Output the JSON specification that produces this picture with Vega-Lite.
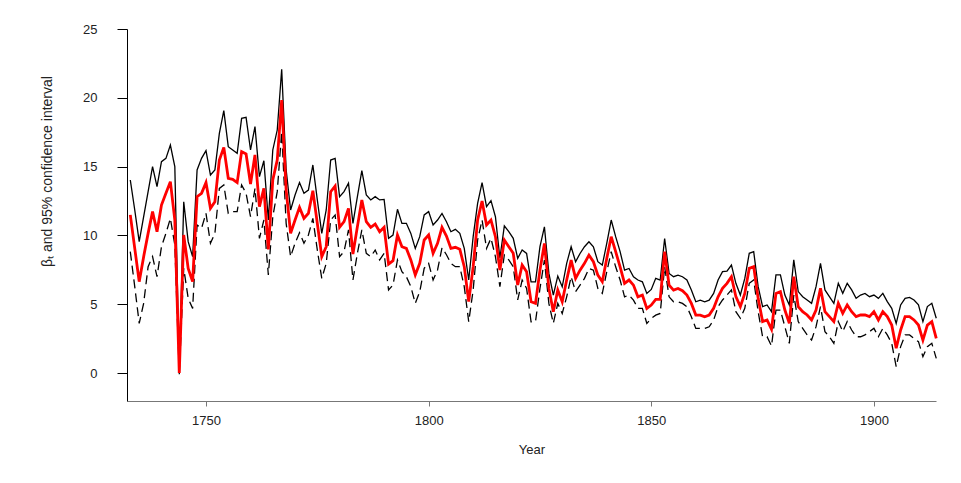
{
  "$schema": "https://vega.github.io/schema/vega-lite/v6.json",
  "width": 809,
  "height": 372,
  "autosize": "none",
  "padding": {"left": 127, "top": 29, "right": 25, "bottom": 82},
  "background": "white",
  "config": {
    "view": {"stroke": null},
    "axis": {"grid": false, "labelFont": "Liberation Sans", "titleFont": "Liberation Sans", "labelFontSize": 13, "titleFontSize": 13, "labelColor": "#222", "titleColor": "#222", "titleFontWeight": "normal"}
  },
  "data": {
    "values": [
      {"year":1733,"est":11.49,"upper":14.03,"lower":8.82},
      {"year":1734,"est":9.06,"upper":11.85,"lower":6.28},
      {"year":1735,"est":6.64,"upper":9.55,"lower":3.61},
      {"year":1736,"est":8.46,"upper":11.36,"lower":5.07},
      {"year":1737,"est":10.15,"upper":13.18,"lower":7.73},
      {"year":1738,"est":11.73,"upper":15.0,"lower":8.46},
      {"year":1739,"est":10.27,"upper":13.54,"lower":7.0},
      {"year":1740,"est":12.21,"upper":15.36,"lower":9.18},
      {"year":1741,"est":13.06,"upper":15.6,"lower":10.15},
      {"year":1742,"est":13.91,"upper":16.57,"lower":11.24},
      {"year":1743,"est":11.12,"upper":15.0,"lower":9.31},
      {"year":1744,"est":0,"upper":0.1,"lower":-0.1},
      {"year":1745,"est":10.03,"upper":12.45,"lower":7.61},
      {"year":1746,"est":7.61,"upper":9.55,"lower":5.43},
      {"year":1747,"est":6.64,"upper":8.46,"lower":4.7},
      {"year":1748,"est":12.82,"upper":14.76,"lower":10.76},
      {"year":1749,"est":13.06,"upper":15.6,"lower":10.52},
      {"year":1750,"est":13.84,"upper":16.16,"lower":11.61},
      {"year":1751,"est":11.97,"upper":14.39,"lower":9.43},
      {"year":1752,"est":12.45,"upper":14.76,"lower":10.15},
      {"year":1753,"est":15.48,"upper":17.42,"lower":13.42},
      {"year":1754,"est":16.4,"upper":19.07,"lower":13.67},
      {"year":1755,"est":14.15,"upper":16.45,"lower":11.61},
      {"year":1756,"est":14.08,"upper":16.21,"lower":11.73},
      {"year":1757,"est":13.84,"upper":15.97,"lower":11.73},
      {"year":1758,"est":16.09,"upper":18.51,"lower":13.67},
      {"year":1759,"est":15.92,"upper":18.58,"lower":13.06},
      {"year":1760,"est":13.74,"upper":16.21,"lower":11.36},
      {"year":1761,"est":15.85,"upper":17.91,"lower":13.42},
      {"year":1762,"est":12.09,"upper":14.27,"lower":9.79},
      {"year":1763,"est":13.42,"upper":15.43,"lower":11.12},
      {"year":1764,"est":8.99,"upper":11.12,"lower":7.13},
      {"year":1765,"est":14.03,"upper":16.21,"lower":11.36},
      {"year":1766,"est":15.48,"upper":17.66,"lower":13.18},
      {"year":1767,"est":19.84,"upper":22.07,"lower":17.54},
      {"year":1768,"est":13.3,"upper":14.76,"lower":10.88},
      {"year":1769,"est":10.15,"upper":11.85,"lower":8.46},
      {"year":1770,"est":11.12,"upper":12.94,"lower":9.43},
      {"year":1771,"est":12.04,"upper":13.84,"lower":10.2},
      {"year":1772,"est":11.24,"upper":13.06,"lower":9.43},
      {"year":1773,"est":11.61,"upper":13.3,"lower":10.03},
      {"year":1774,"est":13.25,"upper":15.12,"lower":11.24},
      {"year":1775,"est":10.88,"upper":12.58,"lower":8.94},
      {"year":1776,"est":8.46,"upper":10.15,"lower":6.88},
      {"year":1777,"est":9.18,"upper":11.85,"lower":7.97},
      {"year":1778,"est":13.18,"upper":15.48,"lower":11.12},
      {"year":1779,"est":13.59,"upper":15.6,"lower":11.49},
      {"year":1780,"est":10.59,"upper":12.82,"lower":8.46},
      {"year":1781,"est":11.0,"upper":13.18,"lower":8.82},
      {"year":1782,"est":11.97,"upper":13.79,"lower":10.4},
      {"year":1783,"est":8.65,"upper":10.88,"lower":6.76},
      {"year":1784,"est":10.64,"upper":12.82,"lower":8.7},
      {"year":1785,"est":12.58,"upper":14.71,"lower":10.4},
      {"year":1786,"est":11.0,"upper":12.94,"lower":8.7},
      {"year":1787,"est":10.59,"upper":12.58,"lower":8.46},
      {"year":1788,"est":10.83,"upper":12.82,"lower":8.94},
      {"year":1789,"est":10.27,"upper":12.58,"lower":8.22},
      {"year":1790,"est":10.59,"upper":12.62,"lower":8.7},
      {"year":1791,"est":7.92,"upper":9.79,"lower":6.04},
      {"year":1792,"est":8.17,"upper":10.03,"lower":6.4},
      {"year":1793,"est":10.03,"upper":11.9,"lower":8.22},
      {"year":1794,"est":9.18,"upper":10.88,"lower":7.37},
      {"year":1795,"est":9.06,"upper":10.88,"lower":7.0},
      {"year":1796,"est":8.22,"upper":10.15,"lower":6.28},
      {"year":1797,"est":7.13,"upper":9.06,"lower":5.07},
      {"year":1798,"est":7.97,"upper":9.91,"lower":5.91},
      {"year":1799,"est":9.67,"upper":11.49,"lower":7.61},
      {"year":1800,"est":10.03,"upper":11.73,"lower":7.97},
      {"year":1801,"est":8.7,"upper":10.76,"lower":6.76},
      {"year":1802,"est":9.43,"upper":11.12,"lower":7.49},
      {"year":1803,"est":10.59,"upper":11.6,"lower":9.1},
      {"year":1804,"est":9.96,"upper":11.0,"lower":8.6},
      {"year":1805,"est":9.06,"upper":10.27,"lower":7.97},
      {"year":1806,"est":9.14,"upper":10.44,"lower":7.73},
      {"year":1807,"est":8.99,"upper":10.15,"lower":7.73},
      {"year":1808,"est":7.73,"upper":9.06,"lower":6.28},
      {"year":1809,"est":5.19,"upper":6.76,"lower":3.73},
      {"year":1810,"est":7.73,"upper":9.91,"lower":6.04},
      {"year":1811,"est":11.12,"upper":12.33,"lower":9.67},
      {"year":1812,"est":12.5,"upper":13.84,"lower":11.12},
      {"year":1813,"est":10.76,"upper":12.09,"lower":9.06},
      {"year":1814,"est":11.12,"upper":12.53,"lower":9.79},
      {"year":1815,"est":9.91,"upper":11.36,"lower":8.46},
      {"year":1816,"est":7.49,"upper":8.34,"lower":6.28},
      {"year":1817,"est":9.67,"upper":10.69,"lower":8.58},
      {"year":1818,"est":9.18,"upper":10.27,"lower":8.22},
      {"year":1819,"est":8.7,"upper":9.79,"lower":7.73},
      {"year":1820,"est":6.4,"upper":8.34,"lower":5.31},
      {"year":1821,"est":7.85,"upper":8.94,"lower":6.76},
      {"year":1822,"est":7.36,"upper":8.69,"lower":6.15},
      {"year":1823,"est":5.18,"upper":6.63,"lower":3.73},
      {"year":1824,"est":5.06,"upper":6.63,"lower":3.73},
      {"year":1825,"est":7.48,"upper":9.18,"lower":6.15},
      {"year":1826,"est":9.42,"upper":10.63,"lower":8.21},
      {"year":1827,"est":6.15,"upper":7.24,"lower":5.06},
      {"year":1828,"est":4.45,"upper":5.67,"lower":3.61},
      {"year":1829,"est":6.03,"upper":7.05,"lower":5.06},
      {"year":1830,"est":5.18,"upper":6.27,"lower":4.33},
      {"year":1831,"est":6.76,"upper":7.97,"lower":5.54},
      {"year":1832,"est":8.21,"upper":9.18,"lower":7.0},
      {"year":1833,"est":6.88,"upper":8.09,"lower":5.91},
      {"year":1834,"est":7.48,"upper":8.69,"lower":6.39},
      {"year":1835,"est":7.97,"upper":9.18,"lower":6.88},
      {"year":1836,"est":8.57,"upper":9.54,"lower":7.6},
      {"year":1837,"est":8.09,"upper":9.18,"lower":7.48},
      {"year":1838,"est":7.12,"upper":8.09,"lower":6.15},
      {"year":1839,"est":6.64,"upper":7.85,"lower":5.79},
      {"year":1840,"est":8.33,"upper":9.42,"lower":7.36},
      {"year":1841,"est":9.91,"upper":11.12,"lower":8.82},
      {"year":1842,"est":8.82,"upper":9.91,"lower":7.72},
      {"year":1843,"est":7.72,"upper":8.82,"lower":6.76},
      {"year":1844,"est":6.51,"upper":7.48,"lower":5.54},
      {"year":1845,"est":6.76,"upper":7.6,"lower":5.67},
      {"year":1846,"est":6.39,"upper":7.0,"lower":5.3},
      {"year":1847,"est":5.54,"upper":6.76,"lower":4.7},
      {"year":1848,"est":5.67,"upper":6.63,"lower":4.7},
      {"year":1849,"est":4.7,"upper":5.79,"lower":3.61},
      {"year":1850,"est":4.94,"upper":6.08,"lower":3.97},
      {"year":1851,"est":5.35,"upper":6.88,"lower":4.21},
      {"year":1852,"est":5.35,"upper":6.76,"lower":4.33},
      {"year":1853,"est":8.82,"upper":9.78,"lower":7.72},
      {"year":1854,"est":6.39,"upper":7.24,"lower":5.54},
      {"year":1855,"est":6.03,"upper":7.0,"lower":5.18},
      {"year":1856,"est":6.15,"upper":7.12,"lower":5.18},
      {"year":1857,"est":5.98,"upper":7.0,"lower":5.06},
      {"year":1858,"est":5.67,"upper":6.76,"lower":4.82},
      {"year":1859,"est":5.06,"upper":6.03,"lower":4.09},
      {"year":1860,"est":4.21,"upper":5.18,"lower":3.24},
      {"year":1861,"est":4.21,"upper":5.3,"lower":3.24},
      {"year":1862,"est":4.09,"upper":5.18,"lower":3.24},
      {"year":1863,"est":4.21,"upper":5.3,"lower":3.36},
      {"year":1864,"est":4.7,"upper":5.79,"lower":3.85},
      {"year":1865,"est":5.54,"upper":6.76,"lower":4.82},
      {"year":1866,"est":6.16,"upper":7.37,"lower":5.31},
      {"year":1867,"est":6.52,"upper":7.4,"lower":5.67},
      {"year":1868,"est":7.0,"upper":7.85,"lower":6.04},
      {"year":1869,"est":5.55,"upper":6.52,"lower":4.46},
      {"year":1870,"est":4.83,"upper":5.67,"lower":3.98},
      {"year":1871,"est":5.79,"upper":6.88,"lower":4.7},
      {"year":1872,"est":7.61,"upper":8.7,"lower":6.52},
      {"year":1873,"est":7.73,"upper":8.82,"lower":6.76},
      {"year":1874,"est":5.43,"upper":6.28,"lower":4.46},
      {"year":1875,"est":3.74,"upper":4.83,"lower":2.64},
      {"year":1876,"est":3.86,"upper":4.95,"lower":2.64},
      {"year":1877,"est":3.18,"upper":4.46,"lower":1.97},
      {"year":1878,"est":5.79,"upper":7.13,"lower":4.58},
      {"year":1879,"est":5.92,"upper":7.13,"lower":4.58},
      {"year":1880,"est":4.58,"upper":5.67,"lower":3.37},
      {"year":1881,"est":3.61,"upper":4.95,"lower":2.16},
      {"year":1882,"est":7.0,"upper":8.22,"lower":5.67},
      {"year":1883,"est":4.83,"upper":5.92,"lower":3.74},
      {"year":1884,"est":4.46,"upper":5.55,"lower":3.25},
      {"year":1885,"est":4.22,"upper":5.31,"lower":2.77},
      {"year":1886,"est":3.86,"upper":5.07,"lower":2.4},
      {"year":1887,"est":4.58,"upper":6.28,"lower":3.37},
      {"year":1888,"est":6.16,"upper":7.97,"lower":4.83},
      {"year":1889,"est":4.46,"upper":6.04,"lower":3.01},
      {"year":1890,"est":4.1,"upper":5.55,"lower":2.64},
      {"year":1891,"est":3.74,"upper":5.07,"lower":2.16},
      {"year":1892,"est":5.07,"upper":6.52,"lower":3.74},
      {"year":1893,"est":4.34,"upper":5.79,"lower":3.01},
      {"year":1894,"est":4.95,"upper":6.52,"lower":3.74},
      {"year":1895,"est":4.46,"upper":6.04,"lower":3.13},
      {"year":1896,"est":4.1,"upper":5.43,"lower":2.64},
      {"year":1897,"est":4.22,"upper":5.67,"lower":2.64},
      {"year":1898,"est":4.22,"upper":5.79,"lower":2.77},
      {"year":1899,"est":4.1,"upper":5.55,"lower":3.01},
      {"year":1900,"est":4.46,"upper":5.67,"lower":3.25},
      {"year":1901,"est":3.86,"upper":5.43,"lower":2.64},
      {"year":1902,"est":4.46,"upper":5.79,"lower":3.25},
      {"year":1903,"est":4.1,"upper":5.19,"lower":2.77},
      {"year":1904,"est":3.49,"upper":4.7,"lower":2.16},
      {"year":1905,"est":1.8,"upper":3.61,"lower":0.46},
      {"year":1906,"est":3.13,"upper":4.95,"lower":1.92},
      {"year":1907,"est":4.1,"upper":5.43,"lower":2.77},
      {"year":1908,"est":4.1,"upper":5.5,"lower":2.77},
      {"year":1909,"est":3.86,"upper":5.31,"lower":2.52},
      {"year":1910,"est":3.49,"upper":4.95,"lower":2.28},
      {"year":1911,"est":2.4,"upper":3.74,"lower":1.19},
      {"year":1912,"est":3.49,"upper":4.83,"lower":1.92},
      {"year":1913,"est":3.74,"upper":5.07,"lower":2.16},
      {"year":1914,"est":2.52,"upper":3.98,"lower":1.07}
    ]
  },
  "encoding": {
    "x": {
      "field": "year",
      "type": "quantitative",
      "scale": {"domain": [1732.26, 1913.94], "nice": false, "zero": false},
      "axis": {"values": [1750, 1800, 1850, 1900], "format": "d", "title": "Year", "domainColor": "#777", "tickColor": "#777", "tickSize": 5, "labelPadding": 8, "titlePadding": 16}
    }
  },
  "layer": [
    {
      "mark": {"type": "line", "color": "black", "strokeWidth": 1.3},
      "encoding": {
        "y": {
          "field": "upper",
          "type": "quantitative",
          "scale": {"domain": [-2.03, 25], "nice": false, "zero": false},
          "axis": {"values": [0, 5, 10, 15, 20, 25], "title": "βₜ and 95% confidence interval", "titleFontSize": 14, "titleX": -73, "titleY": 142, "domainColor": "black", "tickColor": "black", "tickSize": 10, "labelPadding": 20}
        }
      }
    },
    {
      "mark": {"type": "line", "color": "black", "strokeWidth": 1.3, "strokeDash": [9, 5]},
      "encoding": {"y": {"field": "lower", "type": "quantitative"}}
    },
    {
      "mark": {"type": "line", "color": "#ff0000", "strokeWidth": 2.8},
      "encoding": {"y": {"field": "est", "type": "quantitative"}}
    }
  ]
}
